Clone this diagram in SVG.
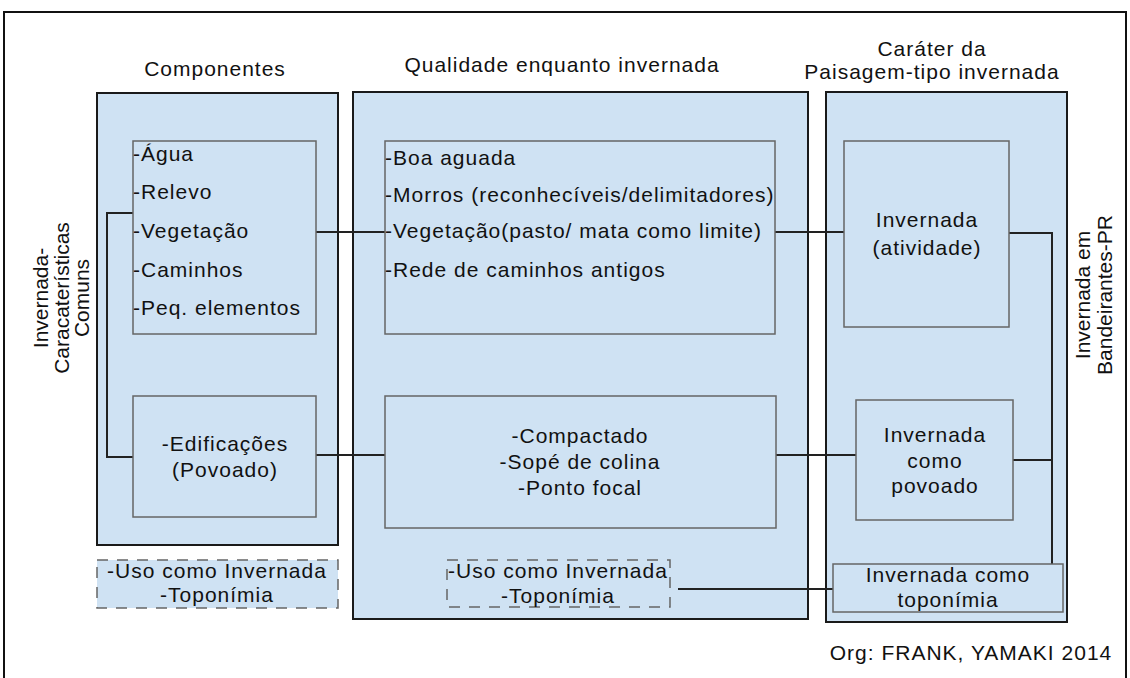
<svg xmlns="http://www.w3.org/2000/svg" width="1130" height="678" viewBox="0 0 1130 678">
<style>
text{font-family:"Liberation Sans",Arial,sans-serif;font-size:21px;fill:#111;letter-spacing:1px}
.c{text-anchor:middle}
.big{fill:#cfe2f3;stroke:#1a1a1a;stroke-width:2}
.in{fill:#cfe2f3;stroke:#666;stroke-width:1.5}
.dash{stroke:#666;stroke-width:1.5;stroke-dasharray:11 9}
.con{fill:none;stroke:#222;stroke-width:2}
.rot{letter-spacing:0}
</style>
<rect x="4" y="12" width="1122" height="690" fill="#fff" stroke="#111" stroke-width="2"/>
<g id="headers">
<text class="c" x="215" y="76">Componentes</text>
<text class="c" x="562" y="72">Qualidade enquanto invernada</text>
<text class="c" x="932" y="56">Caráter da</text>
<text class="c" x="932" y="79">Paisagem-tipo invernada</text>
</g>
<g id="col-componentes"><rect class="big" x="97" y="93" width="241" height="452"/></g>
<g id="col-qualidade"><rect class="big" x="353" y="92" width="455" height="527"/></g>
<g id="col-carater"><rect class="big" x="826" y="92" width="241" height="530"/></g>
<g id="connectors">
<polyline class="con" points="133,213 107,213 107,457 133,457"/>
<line class="con" x1="316" y1="232" x2="385" y2="232"/>
<line class="con" x1="775" y1="232" x2="844" y2="232"/>
<line class="con" x1="316" y1="455" x2="385" y2="455"/>
<line class="con" x1="776" y1="455" x2="856" y2="455"/>
<polyline class="con" points="1009,233 1052,233 1052,564"/>
<line class="con" x1="1013" y1="460" x2="1052" y2="460"/>
<line class="con" x1="678" y1="589" x2="833" y2="589"/>
</g>
<g id="componentes-lista">
<rect class="in" x="133" y="141" width="183" height="193"/>
<text x="133" y="161">-Água</text>
<text x="133" y="199">-Relevo</text>
<text x="133" y="238">-Vegetação</text>
<text x="133" y="277">-Caminhos</text>
<text x="133" y="315">-Peq. elementos</text>
</g>
<g id="edificacoes">
<rect class="in" x="133" y="396" width="183" height="121"/>
<text class="c" x="225" y="451">-Edificações</text>
<text class="c" x="225" y="477">(Povoado)</text>
</g>
<g id="uso-left">
<rect class="dash" fill="#cfe2f3" x="97" y="560" width="241" height="48"/>
<text class="c" x="217" y="578">-Uso como Invernada</text>
<text class="c" x="217" y="602">-Toponímia</text>
</g>
<g id="qualidade-lista">
<rect class="in" x="385" y="141" width="390" height="193"/>
<text x="385" y="165">-Boa aguada</text>
<text x="385" y="202">-Morros (reconhecíveis/delimitadores)</text>
<text x="385" y="238">-Vegetação(pasto/ mata como limite)</text>
<text x="385" y="277">-Rede de caminhos antigos</text>
</g>
<g id="compactado">
<rect class="in" x="385" y="396" width="391" height="132"/>
<text class="c" x="580" y="443">-Compactado</text>
<text class="c" x="580" y="469">-Sopé de colina</text>
<text class="c" x="580" y="495">-Ponto focal</text>
</g>
<g id="uso-mid">
<rect class="dash" fill="none" x="447" y="560" width="223" height="47"/>
<text class="c" x="558" y="578">-Uso como Invernada</text>
<text class="c" x="558" y="603">-Toponímia</text>
</g>
<g id="invernada-atividade">
<rect class="in" x="844" y="141" width="165" height="186"/>
<text class="c" x="927" y="227">Invernada</text>
<text class="c" x="927" y="255">(atividade)</text>
</g>
<g id="invernada-povoado">
<rect class="in" x="856" y="400" width="157" height="120"/>
<text class="c" x="935" y="442">Invernada</text>
<text class="c" x="935" y="468">como</text>
<text class="c" x="935" y="493">povoado</text>
</g>
<g id="invernada-toponimia">
<rect class="in" x="833" y="564" width="230" height="48"/>
<text class="c" x="948" y="582">Invernada como</text>
<text class="c" x="948" y="607">toponímia</text>
</g>
<g id="label-left">
<text class="c rot" transform="translate(48,298) rotate(-90)"><tspan x="0" y="0">Invernada-</tspan><tspan x="0" y="20.5">Caracaterísticas</tspan><tspan x="0" y="41">Comuns</tspan></text>
</g>
<g id="label-right">
<text class="c rot" transform="translate(1090,295) rotate(-90)"><tspan x="0" y="0">Invernada em</tspan><tspan x="0" y="22">Bandeirantes-PR</tspan></text>
</g>
<text x="971" y="660" class="c">Org: FRANK, YAMAKI 2014</text>
</svg>
